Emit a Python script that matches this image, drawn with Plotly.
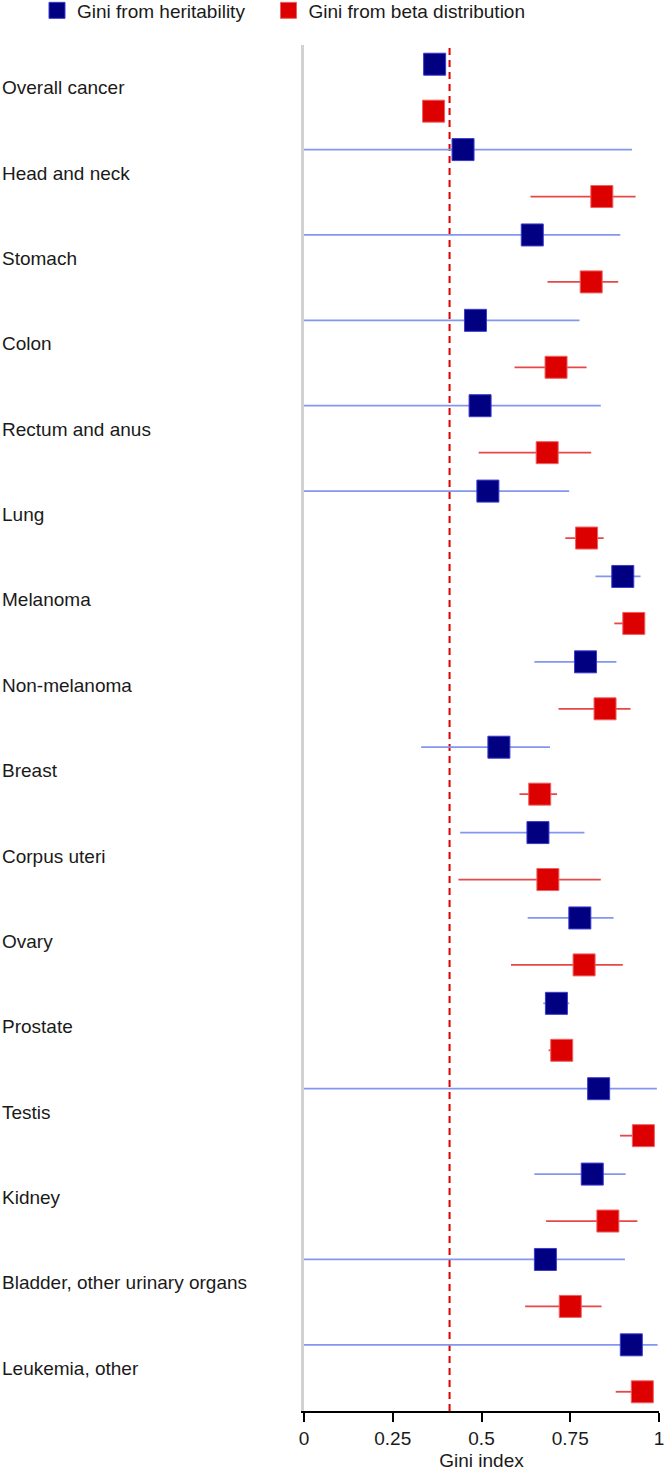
import plotly.graph_objects as go

categories = ["Overall cancer", "Head and neck", "Stomach", "Colon", "Rectum and anus",
              "Lung", "Melanoma", "Non-melanoma", "Breast", "Corpus uteri", "Ovary",
              "Prostate", "Testis", "Kidney", "Bladder, other urinary organs", "Leukemia, other"]

herit_val = [0.368, 0.448, 0.643, 0.483, 0.496, 0.518, 0.898, 0.793, 0.549, 0.659, 0.777, 0.711, 0.830, 0.812, 0.680, 0.922]
herit_lo  = [0.360, 0.0,   0.0,   0.0,   0.0,   0.0,   0.821, 0.649, 0.330, 0.440, 0.630, 0.674, 0.0,   0.649, 0.0,   0.0]
herit_hi  = [0.376, 0.924, 0.891, 0.776, 0.836, 0.747, 0.948, 0.880, 0.693, 0.790, 0.872, 0.747, 0.994, 0.906, 0.904, 0.996]

beta_val = [0.365, 0.839, 0.809, 0.710, 0.685, 0.796, 0.929, 0.848, 0.664, 0.687, 0.789, 0.726, 0.956, 0.856, 0.750, 0.953]
beta_lo  = [0.357, 0.638, 0.686, 0.593, 0.492, 0.736, 0.874, 0.717, 0.607, 0.435, 0.583, 0.689, 0.890, 0.682, 0.623, 0.878]
beta_hi  = [0.373, 0.934, 0.885, 0.796, 0.809, 0.844, 0.945, 0.920, 0.713, 0.836, 0.898, 0.740, 0.970, 0.939, 0.838, 0.965]

reference_gini = 0.41
x_ticks = [0, 0.25, 0.5, 0.75, 1]
x_ticktext = ["0", "0.25", "0.5", "0.75", "1"]

FONT = "Liberation Sans, Arial, Helvetica, sans-serif"
BLUE = "#000080"
RED = "#dd0000"
OFF = 0.275

idx = list(range(len(categories)))

fig = go.Figure()
fig.add_trace(go.Scatter(
    x=herit_val, y=[i - OFF for i in idx], mode="markers",
    name="Gini from heritability", legend="legend",
    marker=dict(symbol="square", size=22, color=BLUE, line=dict(width=1, color="#3a3ad0")),
    error_x=dict(type="data", symmetric=False,
                 array=[h - v for h, v in zip(herit_hi, herit_val)],
                 arrayminus=[v - l for v, l in zip(herit_val, herit_lo)],
                 color="#8497ee", thickness=1.8, width=0),
    cliponaxis=False,
))
fig.add_trace(go.Scatter(
    x=beta_val, y=[i + OFF for i in idx], mode="markers",
    name="Gini from beta distribution", legend="legend2",
    marker=dict(symbol="square", size=22, color=RED, line=dict(width=1, color="#f06060")),
    error_x=dict(type="data", symmetric=False,
                 array=[h - v for h, v in zip(beta_hi, beta_val)],
                 arrayminus=[v - l for v, l in zip(beta_val, beta_lo)],
                 color="#e64848", thickness=1.8, width=0),
    cliponaxis=False,
))

fig.add_shape(type="line", xref="x", yref="paper", x0=reference_gini, x1=reference_gini,
              y0=0, y1=1, line=dict(color=RED, width=2, dash="7px,5px"), layer="below")

for i, c in enumerate(categories):
    fig.add_annotation(text=c, xref="paper", yref="y", x=0, y=i, xanchor="left",
                       yanchor="middle", xshift=-304, showarrow=False,
                       font=dict(family=FONT, size=19, color="#1a1a1a"))

PLOT_W = 664 - 304 - 5
leg_common = dict(orientation="h", xanchor="left", yanchor="top",
                  y=1 + (45 + 8.5) / 1366, bgcolor="rgba(0,0,0,0)",
                  font=dict(family=FONT, size=19, color="#1a1a1a"), itemwidth=30)

fig.update_layout(
    width=664, height=1471,
    margin=dict(l=304, r=5, t=45, b=60, autoexpand=False),
    paper_bgcolor="white", plot_bgcolor="white",
    font=dict(family=FONT, size=19, color="#1a1a1a"),
    showlegend=True,
    legend=dict(x=(37 - 304) / PLOT_W, **leg_common),
    legend2=dict(x=(268.5 - 304) / PLOT_W, **leg_common),
    xaxis=dict(range=[0, 1], tickvals=x_ticks, ticktext=x_ticktext,
               showline=True, linecolor="black", linewidth=1.5,
               ticks="outside", ticklen=9, tickwidth=1.5, tickcolor="black",
               ticklabeloverflow="allow",
               showgrid=False, zeroline=False,
               title=dict(text="Gini index", font=dict(family=FONT, size=19), standoff=17)),
    yaxis=dict(range=[15.5, -0.5], showticklabels=False, showgrid=False, zeroline=False,
               showline=True, linecolor="#d2d2d2", linewidth=3, ticks=""),
)

fig.write_html("out.html", config={"displayModeBar": False},
               post_script="document.body.style.margin='0';document.documentElement.style.overflow='hidden';")
